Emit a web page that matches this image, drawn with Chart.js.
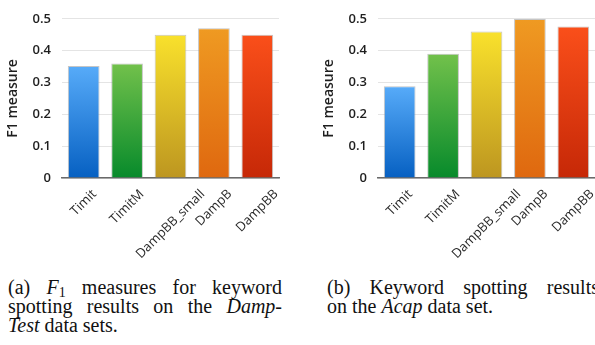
<!DOCTYPE html>
<html>
<head>
<meta charset="utf-8">
<script src="https://cdn.jsdelivr.net/npm/chart.js@4.4.1/dist/chart.umd.min.js"></script>
<style>
  html, body { margin: 0; padding: 0; background: #fff; width: 595px; height: 345px; overflow: hidden; position: relative; }
  .panel { position: absolute; top: 0; width: 300px; height: 262px; }
  #panelA { left: 0; }
  #panelB { left: 316px; }
  .caption {
    position: absolute; top: 277.5px;
    font-family: "Liberation Serif", "Times New Roman", serif;
    font-size: 20px; line-height: 19.2px; color: #111;
  }
  .caption .jl { text-align: justify; text-align-last: justify; }
  .caption sub { font-style: normal; font-size: 0.7em; line-height: 0; vertical-align: -0.2em; }
  #capA { left: 8px; width: 274px; }
  #capB { left: 327px; width: 272px; }
</style>
</head>
<body>
<div class="panel" id="panelA"><canvas id="chartA" width="300" height="262"></canvas></div>
<div class="panel" id="panelB"><canvas id="chartB" width="300" height="262"></canvas></div>
<div class="caption" id="capA">
  <div class="jl">(a) <i>F</i><sub>1</sub> measures for keyword</div>
  <div class="jl">spotting results on the <i>Damp-</i></div>
  <div><i>Test</i> data sets.</div>
</div>
<div class="caption" id="capB">
  <div class="jl">(b) Keyword spotting results</div>
  <div>on the <i>Acap</i> data set.</div>
</div>
<script>
// Model names on the x axis
const categories = ['Timit', 'TimitM', 'DampBB_small', 'DampB', 'DampBB'];
// F1 scores on the DampTest sets
const dampTestF1 = [0.352, 0.36, 0.45, 0.47, 0.45];
// F1 scores on the Acap set
const acapF1 = [0.288, 0.39, 0.46, 0.499, 0.476];
// y axis ticks
const yTicks = [0, 0.1, 0.2, 0.3, 0.4, 0.5];
const yTickLabels = ['0', '0.1', '0.2', '0.3', '0.4', '0.5'];
// top / bottom gradient stops per bar
const barTopColors = ['#57abf9', '#72c14b', '#f9e12c', '#ef9a22', '#fa4f1a'];
const barBottomColors = ['#0660c2', '#078a2b', '#bd9620', '#df680f', '#c62807'];

const LABEL_FONT = '13px "Open Sans", sans-serif';

function gradientFill(ctx) {
  const chart = ctx.chart;
  const area = chart.chartArea;
  const i = ctx.dataIndex;
  if (!area || ctx.type !== 'data') return barTopColors[i];
  const yScale = chart.scales.y;
  const top = yScale.getPixelForValue(ctx.raw);
  const bottom = yScale.getPixelForValue(0);
  const g = chart.ctx.createLinearGradient(0, top, 0, bottom);
  g.addColorStop(0, barTopColors[i]);
  g.addColorStop(1, barBottomColors[i]);
  return g;
}

// Category labels turned 45 degrees, each centred under its tick
const slantedLabels = {
  id: 'slantedLabels',
  afterDraw(chart) {
    const scale = chart.scales.x;
    const c = chart.ctx;
    const k = Math.SQRT1_2;
    c.save();
    c.font = LABEL_FONT;
    c.fillStyle = '#2a2a2a';
    c.textAlign = 'center';
    c.textBaseline = 'middle';
    scale.ticks.forEach((t, i) => {
      const text = categories[i];
      const w = c.measureText(text).width;
      const half = (w + 10) * k / 2;
      const x = scale.getPixelForTick(i);
      const y = scale.top + 10.5 + half;
      c.save();
      c.translate(x, y);
      c.rotate(-Math.PI / 4);
      c.fillText(text, 0, 0);
      c.restore();
    });
    c.restore();
  }
};

function makeChart(id, values) {
  return new Chart(document.getElementById(id), {
    type: 'bar',
    data: {
      labels: categories,
      datasets: [{
        data: values,
        backgroundColor: gradientFill,
        borderColor: 'rgba(150,150,150,0.55)',
        borderWidth: { top: 1, left: 1, right: 1, bottom: 0 },
        borderSkipped: false,
        categoryPercentage: 1,
        barPercentage: 0.73
      }]
    },
    plugins: [slantedLabels],
    options: {
      responsive: false,
      animation: false,
      devicePixelRatio: 1,
      layout: { padding: { top: 16, right: 21, left: 0, bottom: 0 } },
      plugins: { legend: { display: false }, tooltip: { enabled: false } },
      scales: {
        x: {
          grid: { display: false },
          border: { display: true, color: '#6a6a6a', width: 1.5 },
          ticks: { display: false },
          afterFit: (s) => { s.height = 84; }
        },
        y: {
          min: 0, max: 0.5,
          afterBuildTicks: (s) => { s.ticks = yTicks.map(v => ({ value: v })); },
          grid: { color: '#e4e4e4', lineWidth: 1, drawTicks: false },
          border: { display: false },
          ticks: {
            padding: 11,
            color: '#1e1e1e',
            font: { family: '"Open Sans", sans-serif', size: 13, weight: '600' },
            callback: (v) => yTickLabels[yTicks.indexOf(v)]
          },
          title: {
            display: true, text: 'F1 measure', color: '#1e1e1e',
            padding: { top: 5, bottom: 0 },
            font: { family: '"Open Sans", sans-serif', size: 14, weight: '600' }
          },
          afterFit: (s) => { s.width = 62; }
        }
      }
    }
  });
}

makeChart('chartA', dampTestF1);
makeChart('chartB', acapF1);
</script>
</body>
</html>
